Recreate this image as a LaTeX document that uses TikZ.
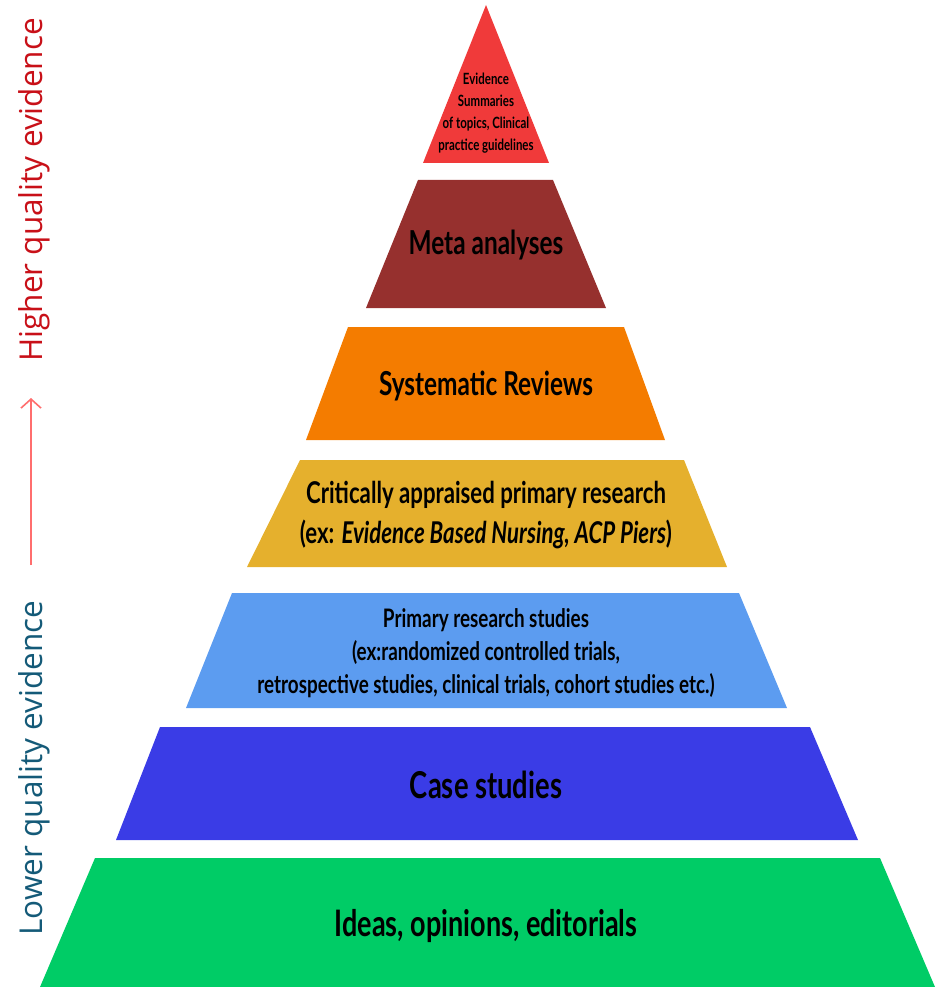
\documentclass[tikz,border=0pt]{standalone}
\usepackage{fontspec}
\usetikzlibrary{arrows.meta}
\newfontfamily\pyr[FakeStretch=0.74]{Lato}
\newfontfamily\sidefont{Open Sans}
\definecolor{cRed}{RGB}{240,58,58}
\definecolor{cMeta}{RGB}{150,48,46}
\definecolor{cSys}{RGB}{244,124,0}
\definecolor{cCrit}{RGB}{229,176,45}
\definecolor{cPrim}{RGB}{92,156,240}
\definecolor{cCase}{RGB}{58,60,230}
\definecolor{cIdea}{RGB}{0,204,102}
\definecolor{cHigh}{RGB}{200,16,24}
\definecolor{cLow}{RGB}{20,90,120}
\definecolor{cArr}{RGB}{255,110,110}
\tikzset{
  lbl/.style={align=center, text=black, inner sep=0pt, font=\pyr\bfseries},
  side/.style={rotate=90, inner sep=0pt, font=\sidefont\fontsize{31.5}{32}\selectfont}
}
\begin{document}
\begin{tikzpicture}[x=1pt,y=-1pt]
\useasboundingbox (0,0) rectangle (945,987);
% layers
\fill[cRed]  (486,5) -- (549,163) -- (423,163) -- cycle;
\fill[cMeta] (418,180) -- (553,180) -- (606,308) -- (366,308) -- cycle;
\fill[cSys]  (348,327) -- (624,327) -- (665,440) -- (306,440) -- cycle;
\fill[cCrit] (300,460) -- (684,460) -- (727,567) -- (247,567) -- cycle;
\fill[cPrim] (232,593) -- (739,593) -- (787,708) -- (186,708) -- cycle;
\fill[cCase] (160,727) -- (810,727) -- (858,840) -- (116,840) -- cycle;
\fill[cIdea] (95,858) -- (880,858) -- (935,987) -- (40,987) -- cycle;
% labels
\node[lbl, font=\pyr\bfseries\fontsize{15.5}{22}\selectfont] (t1) at (486,113)
  {Evidence\\Summaries\\of topics, Clinical\\practice guidelines};
\node[lbl, font=\pyr\bfseries\fontsize{33}{36}\selectfont] (t2) at (486,245) {Meta analyses};
\node[lbl, font=\pyr\bfseries\fontsize{33}{36}\selectfont] (t3) at (486,386) {Systematic Reviews};
\node[lbl, font=\pyr\bfseries\fontsize{30}{40}\selectfont] (t4) at (486,515)
  {Critically appraised primary research\\(ex: \itshape Evidence Based Nursing, ACP Piers\upshape)};
\node[lbl, font=\pyr\bfseries\fontsize{25.5}{33}\selectfont] (t5) at (486,653)
  {Primary research studies\\(ex:randomized controlled trials,\\retrospective studies, clinical trials, cohort studies etc.)};
\node[lbl, font=\pyr\bfseries\fontsize{37}{40}\selectfont] (t6) at (486,785) {Case studies};
\node[lbl, font=\pyr\bfseries\fontsize{36.5}{40}\selectfont] (t7) at (486,926) {Ideas, opinions, editorials};
% side labels
\node[side, text=cHigh] (hi) at (34,190) {Higher quality evidence};
\node[side, text=cLow]  (lo) at (34,768) {Lower quality evidence};
\coordinate (aS) at (31,565);
\coordinate (aE) at (31,398);
\draw[cArr, line width=1.6pt, -{Straight Barb[length=9pt,width=20pt,line width=1.6pt]}] (aS) -- (aE);
\end{tikzpicture}
\end{document}
